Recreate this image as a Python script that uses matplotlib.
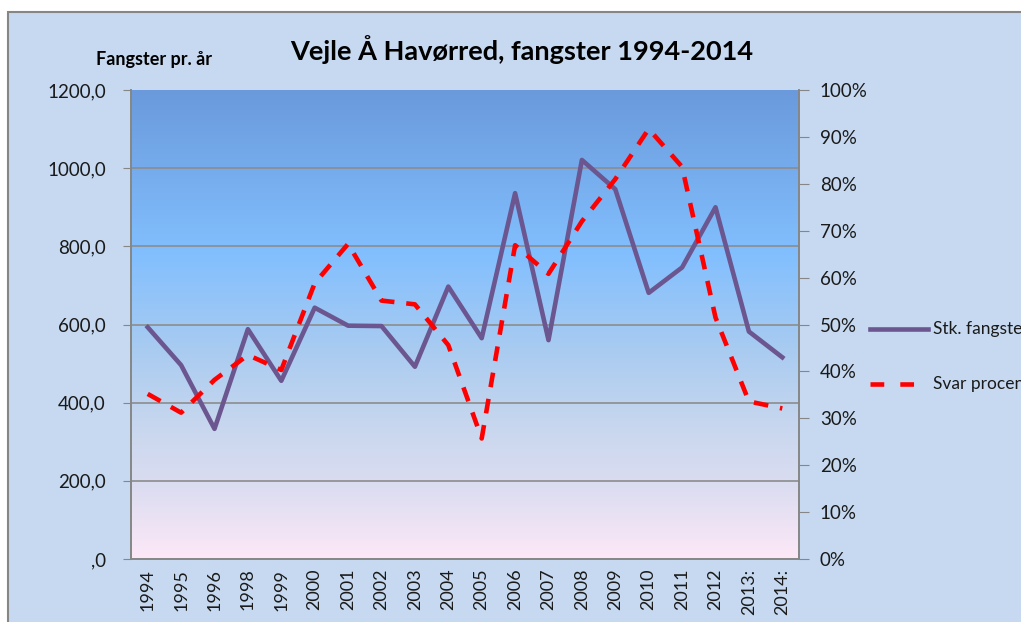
import numpy as np
import matplotlib
matplotlib.use("Agg")
import matplotlib.pyplot as plt
from matplotlib.colors import LinearSegmentedColormap
from matplotlib.lines import Line2D
from matplotlib.patches import Rectangle

plt.rcParams["font.family"] = ["Lato", "DejaVu Sans"]

# data
years = ["1994", "1995", "1996", "1998", "1999", "2000", "2001", "2002", "2003",
         "2004", "2005", "2006", "2007", "2008", "2009", "2010", "2011", "2012",
         "2013:", "2014:"]
fangster = [593, 496, 333, 588, 456, 643, 597, 596, 492, 697, 565, 936, 560,
            1021, 946, 681, 746, 900, 582, 516]
svar_procent = [35.2, 31.2, 38.2, 43.5, 40.3, 58.8, 67.2, 55.1, 54.3, 45.6,
                25.7, 66.9, 60.8, 72.0, 81.0, 91.7, 83.6, 51.5, 33.6, 32.1]

left_ticks = [0, 200, 400, 600, 800, 1000, 1200]
left_labels = [",0", "200,0", "400,0", "600,0", "800,0", "1000,0", "1200,0"]
right_ticks = [0, 10, 20, 30, 40, 50, 60, 70, 80, 90, 100]
right_labels = ["0%", "10%", "20%", "30%", "40%", "50%", "60%", "70%", "80%", "90%", "100%"]

W, H = 1021, 622
fig = plt.figure(figsize=(W / 100, H / 100), dpi=100)
fig.patch.set_facecolor("white")

# chart area background (screenshot of an Excel chart)
bg = Rectangle((8 / W, -0.01), 1.1, 1 - 12 / H + 0.01,
               transform=fig.transFigure, facecolor="#C6D9F0",
               edgecolor="#868686", linewidth=1.5, zorder=-5)
fig.patches.append(bg)

ax = fig.add_axes([131 / W, 1 - 559 / H, (799 - 131) / W, (559 - 90) / H])
ax2 = ax.twinx()

x = np.arange(len(years))
ax.set_xlim(-0.5, len(years) - 0.5)

# gradient plot area
cmap = LinearSegmentedColormap.from_list("bg", [
    (0.0, "#6A9ADC"), (0.35, "#82BFFE"), (0.55, "#A8CBF1"),
    (0.72, "#C8D7EE"), (0.85, "#DCDDF1"), (1.0, "#FDE8F7")])
grad = np.linspace(0, 1, 256).reshape(-1, 1)
ax.imshow(grad, cmap=cmap, aspect="auto", extent=(-0.5, len(years) - 0.5, 0, 1200),
          origin="upper", zorder=0)
ax.set_ylim(0, 1200)
ax2.set_ylim(0, 100)

for v in left_ticks[1:-1]:
    ax.axhline(v, color="#8C8C8C", linewidth=1.2, zorder=1)

ax.plot(x, fangster, color="#6B5690", linewidth=3.3, zorder=3)
ax2.plot(x, svar_procent, color="#FF0000", linewidth=3.3, dashes=(3.2, 2.6), zorder=4)

for a in (ax, ax2):
    for s in a.spines.values():
        s.set_color("#868686")
        s.set_linewidth(1.2)
    a.spines["top"].set_visible(False)

ax.set_yticks(left_ticks)
ax.set_yticklabels(left_labels, fontsize=13.5, color="#1a1a1a")
ax2.set_yticks(right_ticks)
ax2.set_yticklabels(right_labels, fontsize=13.5, color="#1a1a1a")
ax.tick_params(axis="y", direction="out", length=6, color="#868686", pad=12)
ax2.tick_params(axis="y", direction="out", length=7, color="#868686", pad=8)

ax.set_xticks(x)
ax.set_xticklabels(years, rotation=90, fontsize=13, color="#1a1a1a")
ax.tick_params(axis="x", length=0, pad=7)

fig.text(522 / W, 1 - 50 / H, "Vejle Å Havørred, fangster 1994-2014",
         ha="center", va="center", fontsize=19.5, fontweight="bold")
fig.text(154 / W, 1 - 60 / H, "Fangster pr. år", ha="center", va="center",
         fontsize=13, fontweight="bold")

# legend on the right, cut by the right edge as in the original
fig.lines.append(Line2D([870 / W, 928 / W], [1 - 329 / H] * 2, transform=fig.transFigure,
                        color="#6B5690", linewidth=3.3))
fig.lines.append(Line2D([870 / W, 928 / W], [1 - 384 / H] * 2, transform=fig.transFigure,
                        color="#FF0000", linewidth=3.3, dashes=(3, 3.5)))
fig.text(933 / W, 1 - 329 / H, "Stk. fangster", ha="left", va="center", fontsize=12.5,
         color="#1a1a1a")
fig.text(933 / W, 1 - 384 / H, "Svar procent", ha="left", va="center", fontsize=12.5,
         color="#1a1a1a")

fig.savefig("out.png", dpi=100)
